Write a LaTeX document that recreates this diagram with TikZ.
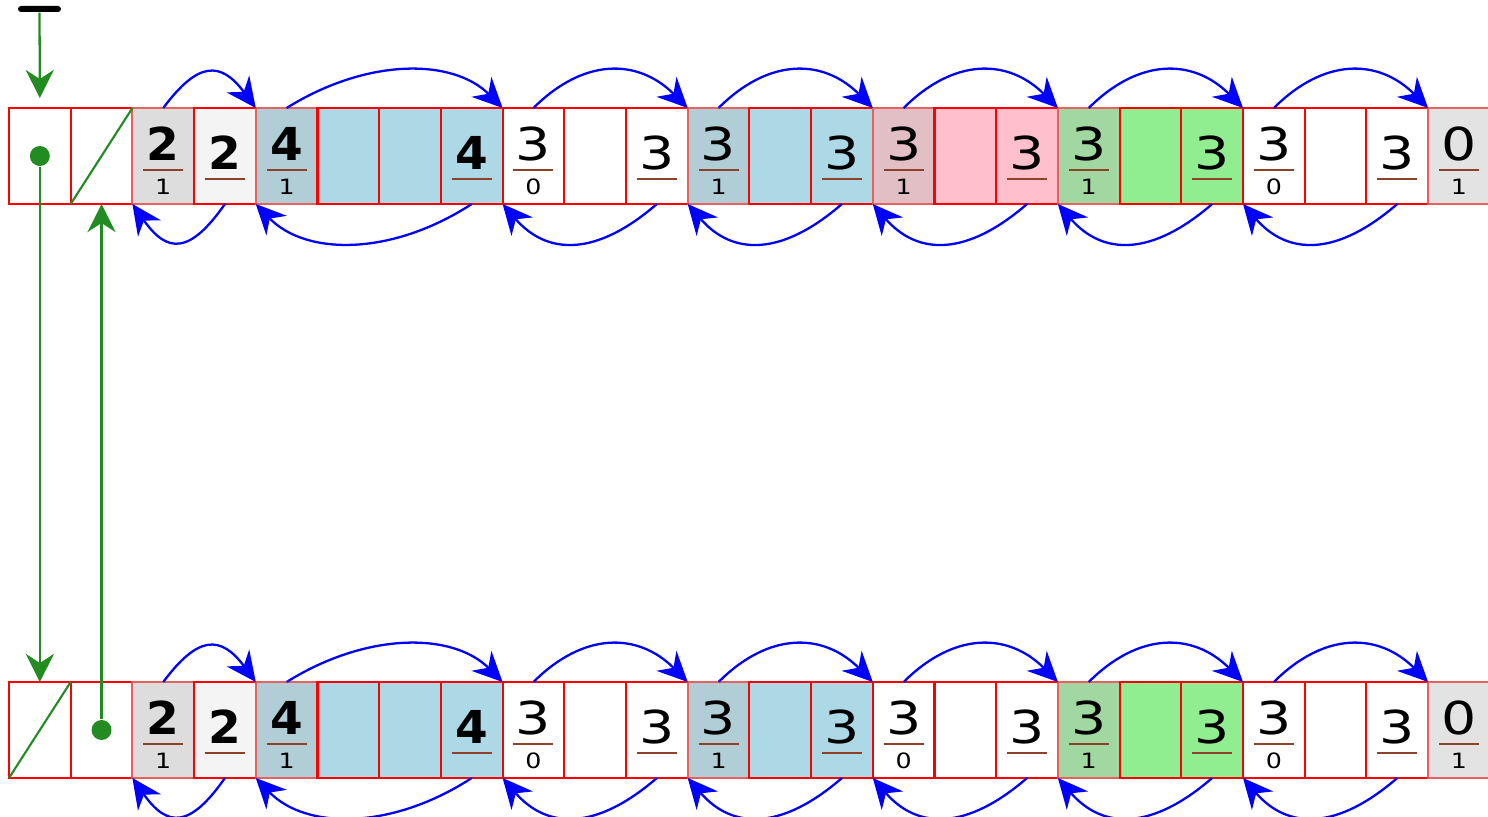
\documentclass[tikz,border=0pt]{standalone}
\usepackage{fontspec}
\setsansfont{DejaVu Sans}
\usepackage{graphicx}
\usetikzlibrary{arrows.meta,positioning}
\definecolor{hdrgray}{RGB}{221,221,221}
\definecolor{ftrgray}{RGB}{244,244,244}
\definecolor{epigray}{RGB}{227,227,227}
\definecolor{blk}{RGB}{173,216,230}
\definecolor{blkhdr}{RGB}{177,205,214}
\definecolor{pnk}{RGB}{255,192,203}
\definecolor{pnkhdr}{RGB}{226,190,197}
\definecolor{grn}{RGB}{144,238,144}
\definecolor{grnhdr}{RGB}{161,216,161}
\definecolor{ptrgreen}{RGB}{34,139,34}
\definecolor{rulebrown}{RGB}{140,65,40}
\definecolor{fadedred}{RGB}{232,96,96}
\tikzset{
  cell/.style={draw=red, line width=0.6pt, minimum width=0.617cm,
    minimum height=0.96cm, inner sep=0pt, outer sep=0pt},
  hcell/.style={cell, draw=fadedred},
  emptycell/.style={cell, fill=white},
  proloh/.style={hcell, fill=hdrgray},
  prolof/.style={cell, fill=ftrgray},
  bluehd/.style={hcell, fill=blkhdr},
  bluebd/.style={cell, fill=blk},
  pinkhd/.style={hcell, fill=pnkhdr},
  pinkbd/.style={cell, fill=pnk},
  greenhd/.style={hcell, fill=grnhdr},
  greenbd/.style={cell, fill=grn},
  epilo/.style={hcell, fill=epigray},
  link/.style={draw=blue, line width=0.65pt, -{Stealth[length=8.5pt,width=8pt]}},
  ptr/.style={draw=ptrgreen, line width=0.65pt, -{Stealth[length=8pt,width=8pt]}},
  dot/.style={circle, fill=ptrgreen, minimum size=0.2cm, inner sep=0pt},
  bignum/.style={font=\fontsize{12.9}{14}\selectfont\sffamily, inner sep=0pt},
  smallnum/.style={font=\fontsize{6}{7}\selectfont\sffamily, inner sep=0pt},
}
\newcommand{\bnum}[1]{\textbf{\scalebox{0.85}[1]{#1}}}
% header: size over allocated bit
\newcommand{\hdr}[3]{%
  \node[bignum] at ([yshift=-0.36cm]#1.north) {\scalebox{1.22}[1]{#2}};
  \draw[rulebrown, line width=0.6pt] ([xshift=-0.2cm,yshift=-0.62cm]#1.north) -- ++(0.4,0);
  \node[smallnum] at ([yshift=-0.79cm]#1.north) {\scalebox{1.2}[1]{#3}};
}
% footer: size underlined
\newcommand{\ftr}[2]{%
  \node[bignum] at ([yshift=-0.45cm]#1.north) {\scalebox{1.22}[1]{#2}};
  \draw[rulebrown, line width=0.6pt] ([xshift=-0.2cm,yshift=-0.71cm]#1.north) -- ++(0.4,0);
}

\begin{document}
\begin{tikzpicture}
  \useasboundingbox (0,0) rectangle (14.88,-8.17);
  % top heap
  \foreach \i/\s in {0/emptycell,1/emptycell,2/proloh,3/prolof,4/bluehd,5/bluebd,
      6/bluebd,7/bluebd,8/emptycell,9/emptycell,10/emptycell,11/bluehd,12/bluebd,
      13/bluebd,14/pinkhd,15/pinkbd,16/pinkbd,17/greenhd,18/greenbd,19/greenbd,
      20/emptycell,21/emptycell,22/emptycell,23/epilo}
    \node[\s] (t\i) at ({0.3985+0.617*\i},-1.56) {};
  % bottom heap
  \foreach \i/\s in {0/emptycell,1/emptycell,2/proloh,3/prolof,4/bluehd,5/bluebd,
      6/bluebd,7/bluebd,8/emptycell,9/emptycell,10/emptycell,11/bluehd,12/bluebd,
      13/bluebd,14/emptycell,15/emptycell,16/emptycell,17/greenhd,18/greenbd,19/greenbd,
      20/emptycell,21/emptycell,22/emptycell,23/epilo}
    \node[\s] (b\i) at ({0.3985+0.617*\i},-7.30) {};

  \foreach \r/\f in {t/1,b/0} {
    \hdr{\r2}{\bnum{2}}{1}
    \ftr{\r3}{\bnum{2}}
    \hdr{\r4}{\bnum{4}}{1}
    \ftr{\r7}{\bnum{4}}
    \hdr{\r8}{3}{0}
    \ftr{\r10}{3}
    \hdr{\r11}{3}{1}
    \ftr{\r13}{3}
    \hdr{\r14}{3}{\f}
    \ftr{\r16}{3}
    \hdr{\r17}{3}{1}
    \ftr{\r19}{3}
    \hdr{\r20}{3}{0}
    \ftr{\r22}{3}
    \hdr{\r23}{0}{1}
    % next / prev links
    \draw[link] (\r2.north) .. controls +(0.35,0.47) and +(-0.35,0.47) .. (\r4.north west);
    \draw[link] (\r4.north) .. controls +(0.8,0.5) and +(-0.5,0.5) .. (\r8.north west);
    \foreach \s/\e in {8/11,11/14,14/17,17/20,20/23}
      \draw[link] (\r\s.north) .. controls +(0.5,0.5) and +(-0.5,0.5) .. (\r\e.north west);
    \draw[link] (\r3.south) .. controls +(-0.35,-0.5) and +(0.35,-0.5) .. (\r2.south west);
    \draw[link] (\r7.south) .. controls +(-0.8,-0.52) and +(0.5,-0.52) .. (\r4.south west);
    \foreach \s/\e in {10/8,13/11,16/14,19/17,22/20}
      \draw[link] (\r\s.south) .. controls +(-0.6,-0.52) and +(0.45,-0.52) .. (\r\e.south west);
  }

  \draw[ptrgreen, line width=0.6pt] (t1.south west) -- (t1.north east);
  \draw[ptrgreen, line width=0.6pt] (b0.south west) -- (b0.north east);

  \node[fill=black, rounded corners=0.03cm, minimum width=0.43cm,
    minimum height=0.06cm, inner sep=0pt] (root) at (0.395,-0.09) {};
  \coordinate[above=0.1cm of t0] (rootend);
  \node[dot] (tdot) at (t0) {};
  \node[dot] (bdot) at (b1) {};
  \draw[ptr] (root) -- (rootend);
  \draw[ptr] (tdot) -- (b0.north);
  \draw[ptr] (bdot) -- (t1.south);
\end{tikzpicture}
\end{document}
